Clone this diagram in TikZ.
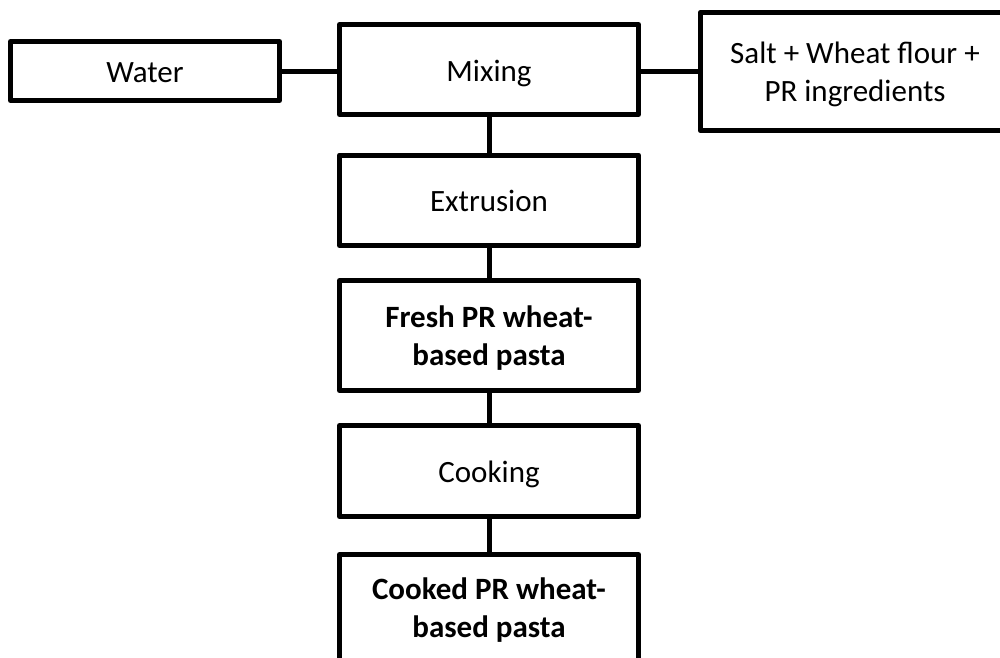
\documentclass[tikz,border=0pt]{standalone}
\usepackage{fontspec}
\setmainfont{Carlito}
\begin{document}
\begin{tikzpicture}[x=1pt,y=-1pt,
  procbox/.style={draw=black, line width=5pt, line join=round, fill=white,
    inner sep=0pt, align=center, font=\fontsize{31}{38}\selectfont},
  oneline/.style={text height=29pt, text depth=6pt},
  twolines/.style={text height=67pt, text depth=8pt},
  stepbox/.style={procbox, minimum width=299pt},
  link/.style={draw=black, line width=5pt}]
\clip (0,0) rectangle (1000,657);
\fill[white] (0,0) rectangle (1000,657);

% input boxes
\node[procbox, oneline, minimum width=269pt, minimum height=59pt] (water) at (145,71) {Water};
\node[procbox, twolines, minimum width=309.5pt, minimum height=118pt] (salt) at (855,71.5)
  {Salt + Wheat flour +\\PR ingredients};

% process chain
\node[stepbox, oneline, minimum height=90pt] (mix) at (489,69.5) {Mixing};
\node[stepbox, oneline, minimum height=90.5pt] (extr) at (489,200.25) {Extrusion};
\node[stepbox, twolines, minimum height=110pt, font=\fontsize{31}{38}\selectfont\bfseries] (fresh) at (489,335.5)
  {Fresh PR wheat-\\based pasta};
\node[stepbox, oneline, minimum height=91pt] (cook) at (489,471) {Cooking};
\node[stepbox, twolines, minimum height=107pt, font=\fontsize{31}{38}\selectfont\bfseries] (cooked) at (489,608)
  {Cooked PR wheat-\\based pasta};

% connectors
\draw[link] (water.east) -- (water.east -| mix.west);
\draw[link] (mix.east |- salt.west) -- (salt.west);
\draw[link] (mix.south) -- (extr.north);
\draw[link] (extr.south) -- (fresh.north);
\draw[link] (fresh.south) -- (cook.north);
\draw[link] (cook.south) -- (cooked.north);
\end{tikzpicture}
\end{document}
